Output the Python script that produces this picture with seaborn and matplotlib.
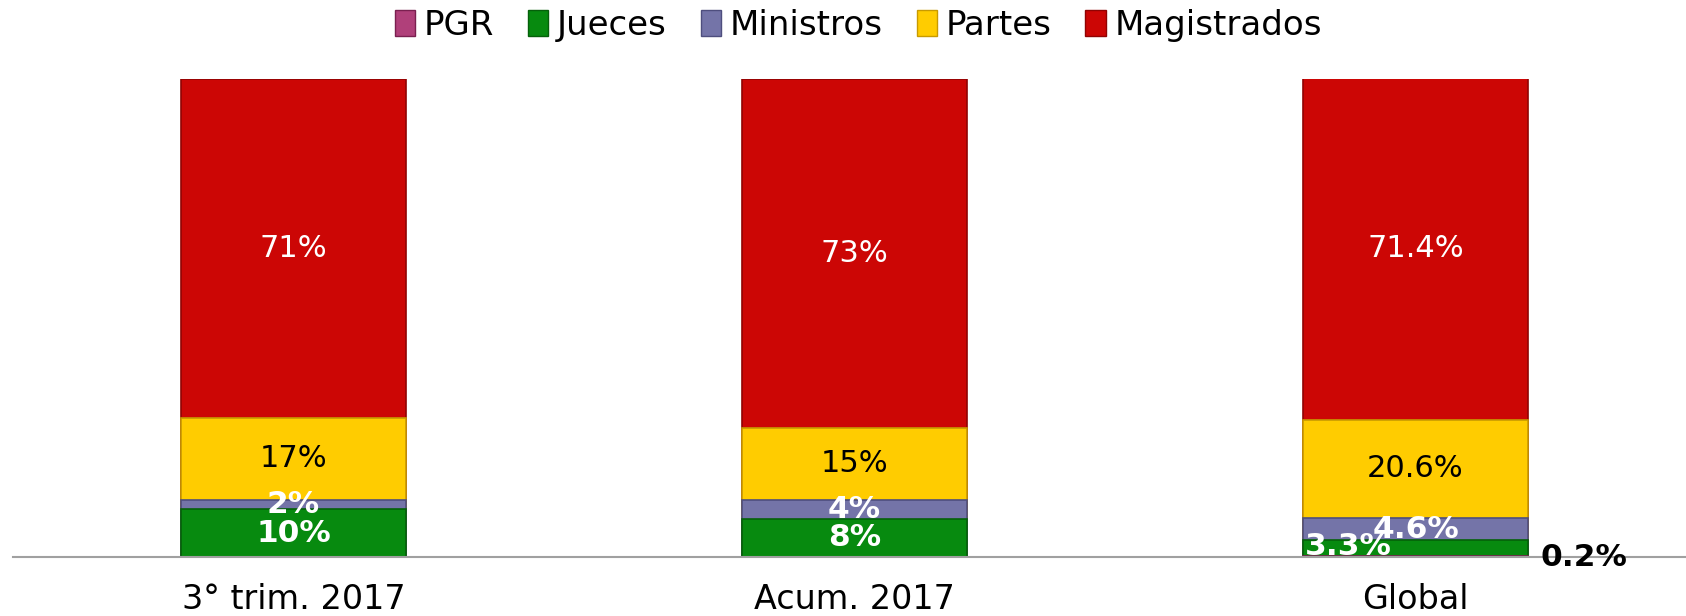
import matplotlib
matplotlib.use("Agg")
import matplotlib.pyplot as plt
from matplotlib.patches import Patch
import seaborn as sns
import numpy as np
import pandas as pd

categories = ["3° trim. 2017", "Acum. 2017", "Global"]
series = ["PGR", "Jueces", "Ministros", "Partes", "Magistrados"]
pgr = [0.0, 0.0, 0.2]
jueces = [10, 8, 3.3]
ministros = [2, 4, 4.6]
partes = [17, 15, 20.6]
magistrados = [71, 73, 71.4]
labels_pgr = ["", "", "0.2%"]
labels_jueces = ["10%", "8%", "3.3%"]
labels_ministros = ["2%", "4%", "4.6%"]
labels_partes = ["17%", "15%", "20.6%"]
labels_magistrados = ["71%", "73%", "71.4%"]

colors = {"PGR": "#B0407A", "Jueces": "#078A0F", "Ministros": "#7474A8",
          "Partes": "#FFCC00", "Magistrados": "#CC0605"}
edges = {"PGR": "#7A2050", "Jueces": "#05600A", "Ministros": "#4E4E7E",
         "Partes": "#C89A00", "Magistrados": "#900303"}

values = {"PGR": pgr, "Jueces": jueces, "Ministros": ministros,
          "Partes": partes, "Magistrados": magistrados}
labels = {"PGR": labels_pgr, "Jueces": labels_jueces, "Ministros": labels_ministros,
          "Partes": labels_partes, "Magistrados": labels_magistrados}

sns.set_theme(style="white")
plt.rcParams["font.family"] = ["DejaVu Sans"]
plt.rcParams["text.color"] = "black"
plt.rcParams["xtick.color"] = "black"

fig = plt.figure(figsize=(16.86, 6.16), dpi=100)
ax = fig.add_axes([13/1686, (616-557)/616, 1 - 13/1686, (557-78.5)/616])

df = pd.DataFrame(values, index=categories)
cum = df.cumsum(axis=1)

for s in reversed(series):
    d = pd.DataFrame({"cat": categories, "val": cum[s].values})
    sns.barplot(data=d, x="cat", y="val", order=categories, color=colors[s],
                width=0.4, ax=ax, saturation=1, edgecolor=edges[s], linewidth=1.2)

ax.set_ylim(0, 100)
ax.set_xlim(-0.5, 2.5 - 10/561)
ax.set_xlabel("")
ax.set_ylabel("")
ax.set_yticks([])
for sp in ["left", "right", "top"]:
    ax.spines[sp].set_visible(False)
ax.spines["bottom"].set_color("#A0A0A0")
ax.spines["bottom"].set_linewidth(1.5)
ax.set_xticks(range(len(categories)))
ax.set_xticklabels(categories, fontsize=24, color="black")
ax.tick_params(axis="x", which="major", length=0, pad=19, labelcolor="black")
ax.set_xticks([-0.5, 0.5, 1.5], minor=True)
ax.tick_params(axis="x", which="minor", length=9, width=1.2, color="#A0A0A0", direction="out")

for i in range(len(categories)):
    base = 0
    for s in series:
        v = values[s][i]
        mid = base + v / 2
        lab = labels[s][i]
        base += v
        if not lab:
            continue
        if s in ("Partes",):
            ax.text(i, mid, lab, ha="center", va="center", fontsize=22, color="black")
        elif s == "Magistrados":
            ax.text(i, mid, lab, ha="center", va="center", fontsize=22, color="white")
        elif s == "PGR":
            ax.text(i + 0.30, mid - 0.3, lab, ha="center", va="center", fontsize=22.5,
                    color="black", fontweight="bold")
        elif s == "Jueces" and i == 2:
            ax.text(i - 0.12, mid + 0.3, lab, ha="center", va="center", fontsize=22.5,
                    color="white", fontweight="bold")
        else:
            ax.text(i, mid, lab, ha="center", va="center", fontsize=22.5,
                    color="white", fontweight="bold")

handles = [Patch(facecolor=colors[s], edgecolor=edges[s], label=s) for s in series]
fig.legend(handles=handles, loc="upper center", bbox_to_anchor=(0.509, 1.035), ncol=5,
           frameon=False, fontsize=24.5, handlelength=0.6, handleheight=0.8,
           handletextpad=0.25, columnspacing=1.0, labelcolor="black")

fig.savefig("out.png", dpi=100)
